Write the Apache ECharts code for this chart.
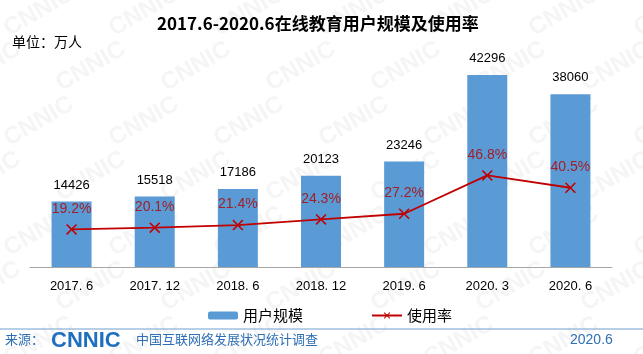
<!DOCTYPE html>
<html>
<head>
<meta charset="utf-8">
<script src="https://cdn.jsdelivr.net/npm/echarts@6/dist/echarts.min.js"></script>
<style>
  html, body { margin: 0; padding: 0; background: #fff; }
  #chart { width: 643px; height: 354px; }
</style>
</head>
<body>
<div id="chart"></div>
<script>
var categories = ['2017. 6', '2017. 12', '2018. 6', '2018. 12', '2019. 6', '2020. 3', '2020. 6'];
var users = [14426, 15518, 17186, 20123, 23246, 42296, 38060];
var rate = [19.2, 20.1, 21.4, 24.3, 27.2, 46.8, 40.5];

var dom = document.getElementById('chart');
var myChart = echarts.init(dom);

// faint CNNIC watermark tiles
var marks = [];
for (var r = -1; r < 7; r++) {
    for (var c = -1; c < 8; c++) {
        marks.push({
            type: 'text',
            x: c * 105 + (r % 2) * 52,
            y: r * 55 + 20,
            rotation: Math.PI / 6,
            silent: true,
            z: -10,
            style: {
                text: 'CNNIC',
                fill: '#f5f5f5',
                font: 'bold 24px "Liberation Sans"'
            }
        });
    }
}

var footer = [{
    type: 'line',
    shape: { x1: 0, y1: 329, x2: 643, y2: 329 },
    style: { stroke: '#6f9fcf', lineWidth: 1 }
}, {
    type: 'text', x: 5, y: 333,
    style: { text: '来源：', fill: '#2e6fb5', font: '13px "Noto Sans CJK SC"' }
}, {
    type: 'text', x: 51, y: 330,
    style: { text: 'CNNIC', fill: '#1f6fc0', font: 'bold 22px "Liberation Sans"' }
}, {
    type: 'text', x: 136, y: 333,
    style: { text: '中国互联网络发展状况统计调查', fill: '#2e6fb5', font: '13px "Noto Sans CJK SC"' }
}, {
    type: 'text', x: 570, y: 333,
    style: { text: '2020.6', fill: '#2e6fb5', font: '14px "Liberation Sans"' }
}, {
    type: 'text', x: 12, y: 35,
    style: { text: '单位：万人', fill: '#000', font: '14px "Noto Sans CJK SC"' }
}];

var option = {
    animation: false,
    title: {
        text: '2017.6-2020.6在线教育用户规模及使用率',
        left: 152,
        top: 10,
        textStyle: {
            fontFamily: 'Noto Sans CJK SC',
            fontSize: 17,
            fontWeight: 'bold',
            color: '#000'
        }
    },
    graphic: marks.concat(footer),
    legend: {
        data: ['用户规模', '使用率'],
        left: 203,
        top: 303,
        itemWidth: 30,
        itemHeight: 8,
        itemGap: 68,
        textStyle: { fontFamily: 'Noto Sans CJK SC', fontSize: 15, color: '#000' }
    },
    grid: { left: 30, right: 31, top: 40, bottom: 87 },
    xAxis: {
        type: 'category',
        data: categories,
        axisLine: { lineStyle: { color: '#a6a6a6' } },
        axisTick: { inside: true, length: 5, lineStyle: { color: '#a6a6a6' } },
        axisLabel: {
            margin: 13,
            fontFamily: 'Liberation Sans',
            fontSize: 13,
            color: '#000'
        }
    },
    yAxis: [{
        type: 'value', min: 0, max: 50000, show: false, splitLine: { show: false }
    }, {
        type: 'value', min: 0, max: 116, show: false, splitLine: { show: false }
    }],
    series: [{
        name: '用户规模',
        type: 'bar',
        data: users,
        barWidth: 40,
        itemStyle: { color: '#5b9bd5' },
        label: {
            show: true,
            position: 'top',
            distance: 10,
            fontFamily: 'Liberation Sans',
            fontSize: 13,
            color: '#000'
        }
    }, {
        name: '使用率',
        type: 'line',
        yAxisIndex: 1,
        data: rate,
        symbol: 'path://M0,1L1,0L5,4L9,0L10,1L6,5L10,9L9,10L5,6L1,10L0,9L4,5Z',
        symbolSize: 11,
        lineStyle: { color: '#c00000', width: 1.8 },
        itemStyle: { color: '#c00000' },
        label: {
            show: true,
            position: 'top',
            distance: 8,
            formatter: '{c}%',
            fontFamily: 'Liberation Sans',
            fontSize: 14,
            color: '#a0202a'
        }
    }]
};
myChart.setOption(option, true);
</script>
</body>
</html>
